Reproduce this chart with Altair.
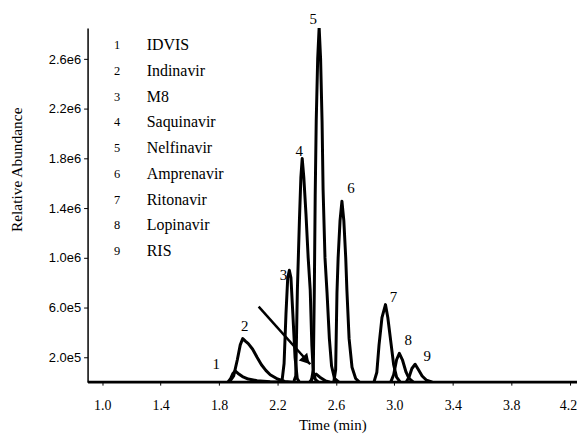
import altair as alt
import pandas as pd

# ---- peak traces (time in min, abundance) ----
p1_t = [1.86, 1.88, 1.895, 1.91, 1.93, 1.96, 2.00, 2.06, 2.15, 2.25]
p1_y = [0, 0.03e6, 0.07e6, 0.09e6, 0.07e6, 0.045e6, 0.025e6, 0.012e6, 0.004e6, 0]

p2_t = [1.87, 1.90, 1.925, 1.945, 1.962, 1.98, 2.00, 2.03, 2.06, 2.09, 2.12, 2.15, 2.20, 2.25, 2.30]
p2_y = [0, 0.05e6, 0.18e6, 0.30e6, 0.35e6, 0.33e6, 0.31e6, 0.265e6, 0.20e6, 0.14e6, 0.095e6, 0.06e6, 0.025e6, 0.006e6, 0]

p3_t = [2.23, 2.245, 2.258, 2.27, 2.281, 2.292, 2.305, 2.32, 2.335, 2.35]
p3_y = [0, 0.15e6, 0.55e6, 0.84e6, 0.90e6, 0.84e6, 0.55e6, 0.2e6, 0.03e6, 0]

p4_t = [2.31, 2.325, 2.336, 2.35, 2.36, 2.369, 2.38, 2.395, 2.41, 2.424, 2.435, 2.445, 2.46, 2.48]
p4_y = [0, 0.05e6, 0.74e6, 1.3e6, 1.65e6, 1.80e6, 1.65e6, 1.35e6, 1.0e6, 0.74e6, 0.3e6, 0.08e6, 0.02e6, 0]

p5_t = [2.43, 2.445, 2.452, 2.458, 2.465, 2.475, 2.485, 2.495, 2.505, 2.512, 2.525, 2.539, 2.555, 2.57, 2.59, 2.62]
p5_y = [0, 0.1e6, 0.74e6, 1.5e6, 2.1e6, 2.6e6, 2.856e6, 2.6e6, 2.1e6, 1.55e6, 1.0e6, 0.72e6, 0.35e6, 0.13e6, 0.03e6, 0]

p6_t = [2.585, 2.598, 2.607, 2.615, 2.628, 2.641, 2.654, 2.667, 2.675, 2.69, 2.71, 2.735, 2.76]
p6_y = [0, 0.1e6, 0.72e6, 1.0e6, 1.3e6, 1.456e6, 1.3e6, 1.0e6, 0.74e6, 0.35e6, 0.12e6, 0.03e6, 0]

p7_t = [2.86, 2.88, 2.895, 2.915, 2.939, 2.955, 2.975, 2.995, 3.015, 3.04]
p7_y = [0, 0.08e6, 0.30e6, 0.52e6, 0.624e6, 0.52e6, 0.33e6, 0.14e6, 0.04e6, 0]

p8_t = [2.975, 2.995, 3.015, 3.034, 3.055, 3.08, 3.10, 3.13]
p8_y = [0, 0.06e6, 0.18e6, 0.232e6, 0.18e6, 0.08e6, 0.03e6, 0]

p9_t = [3.08, 3.10, 3.12, 3.142, 3.165, 3.19, 3.22, 3.26]
p9_y = [0, 0.04e6, 0.11e6, 0.144e6, 0.10e6, 0.05e6, 0.015e6, 0]

minor_t = [2.42, 2.445, 2.465, 2.49, 2.53, 2.56]
minor_y = [0, 0.04e6, 0.065e6, 0.04e6, 0.01e6, 0]

base_t = [0.9, 4.25]
base_y = [0, 0]

# ---- peak number labels ----
lab_text = ["1", "2", "3", "4", "5", "6", "7", "8", "9"]
lab_t = [1.780, 1.976, 2.241, 2.349, 2.444, 2.702, 2.993, 3.095, 3.224]
lab_y = [0.144e6, 0.448e6, 0.864e6, 1.864e6, 2.92e6, 1.56e6, 0.688e6, 0.336e6, 0.208e6]

# ---- legend list ----
compounds = ["IDVIS", "Indinavir", "M8", "Saquinavir", "Nelfinavir",
             "Amprenavir", "Ritonavir", "Lopinavir", "RIS"]

# ---- arrow ----
arrow_t = [2.071, 2.424]
arrow_y = [0.608e6, 0.144e6]

# build table
rows = []
for name, ts, ys in [("p1", p1_t, p1_y), ("p2", p2_t, p2_y), ("p3", p3_t, p3_y),
                     ("p4", p4_t, p4_y), ("p5", p5_t, p5_y), ("p6", p6_t, p6_y),
                     ("p7", p7_t, p7_y), ("p8", p8_t, p8_y), ("p9", p9_t, p9_y),
                     ("minor", minor_t, minor_y), ("base", base_t, base_y)]:
    for i, (t, y) in enumerate(zip(ts, ys)):
        rows.append({"trace": name, "order": i, "t": t, "y": y})
traces = pd.DataFrame(rows)

labels = pd.DataFrame({"txt": lab_text, "t": lab_t, "y": lab_y})
legend = pd.DataFrame({"num": lab_text, "name": compounds, "row": list(range(len(compounds)))})
arrow = pd.DataFrame({"t": arrow_t, "y": arrow_y, "order": [0, 1]})
head = pd.DataFrame({"t": [arrow_t[1]], "y": [arrow_y[1]]})

xticks = [round(1.0 + 0.2 * k, 1) for k in range(17)]
yticks = [0.2e6 * k for k in range(1, 15)]

xscale = alt.Scale(domain=[0.9, 4.25], nice=False, zero=False)
yscale = alt.Scale(domain=[0, 2.85e6], nice=False)

xaxis = alt.Axis(values=xticks, title="Time (min)",
                 labelExpr="(round((datum.value - 1.0) / 0.2) % 2 == 0) ? format(datum.value, '.1f') : ''",
                 labelFont="Liberation Serif", labelFontSize=14, labelColor="black",
                 titleFont="Liberation Serif", titleFontSize=15, titleFontWeight="normal",
                 titleColor="black", titlePadding=6,
                 tickSize=3, tickColor="black", domainColor="black", domainWidth=1.5,
                 grid=False, labelPadding=13, labelFlush=8, labelFlushOffset=7)
yaxis = alt.Axis(values=yticks, title="Relative Abundance",
                 labelExpr="(round(datum.value / 1e5) % 4 == 2) ? replace(format(datum.value, '.1e'), '+', '') : ''",
                 labelFont="Liberation Sans", labelFontSize=13, labelColor="black",
                 titleFont="Liberation Serif", titleFontSize=15.5, titleFontWeight="normal",
                 titleColor="black", titleX=-63, titleY=142, titleAlign="center",
                 tickSize=4, tickColor="black", domainColor="black", domainWidth=1.5,
                 grid=False, labelPadding=3)

lines = alt.Chart(traces).mark_line(color="black", strokeWidth=3, strokeJoin="round", clip=True).encode(
    x=alt.X("t:Q", scale=xscale, axis=xaxis),
    y=alt.Y("y:Q", scale=yscale, axis=yaxis),
    detail="trace:N",
    order="order:Q",
)

arrow_line = alt.Chart(arrow).mark_line(color="black", strokeWidth=2.5).encode(
    x="t:Q", y="y:Q", order="order:Q"
)
arrow_head = alt.Chart(head).mark_point(shape="triangle-right", filled=True, color="black",
                                        size=130, angle=48, opacity=1, xOffset=-4, yOffset=-4).encode(
    x="t:Q", y="y:Q"
)

peak_labels = alt.Chart(labels).mark_text(font="Liberation Serif", fontSize=15, color="black").encode(
    x="t:Q", y="y:Q", text="txt:N"
)

legend_nums = alt.Chart(legend).transform_calculate(
    t="1.102", y="2.712e6 - datum.row * 0.2072e6"
).mark_text(font="Liberation Serif", fontSize=12.5, color="black").encode(
    x="t:Q", y="y:Q", text="num:N"
)
legend_names = alt.Chart(legend).transform_calculate(
    t="1.305", y="2.712e6 - datum.row * 0.2072e6"
).mark_text(font="Liberation Serif", fontSize=16, color="black", align="left").encode(
    x="t:Q", y="y:Q", text="name:N"
)

chart = alt.layer(lines, arrow_line, arrow_head, peak_labels, legend_nums, legend_names).properties(
    width=492, height=356,
    autosize=alt.AutoSizeParams(type="none"),
    padding={"left": 80, "top": 19, "right": 0, "bottom": 51},
    background="white",
).configure_view(stroke=None)

chart.save("out.html", embed_options={"renderer": "svg", "actions": False})
